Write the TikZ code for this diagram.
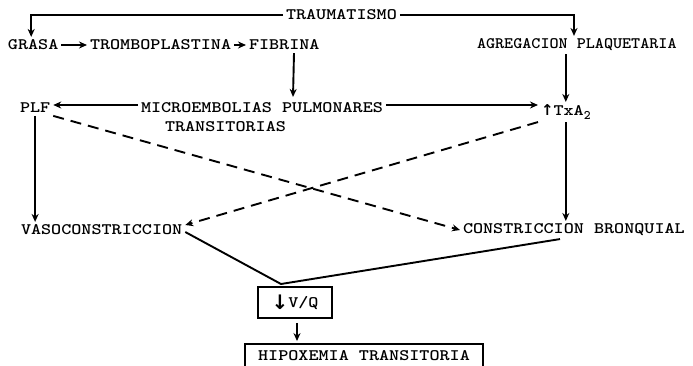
\documentclass[tikz,border=0pt]{standalone}
\usepackage{fontspec}
\usepackage{graphicx}
\newfontfamily\symfont{DejaVu Sans}
\usetikzlibrary{arrows.meta,calc}
\newcommand{\tw}[1]{\scalebox{1.2}[1]{#1}}
\begin{document}
\begin{tikzpicture}[x=1pt,y=-1pt,
  lbl/.style={inner sep=0pt, outer sep=3pt, anchor=west, font=\ttfamily\bfseries\fontsize{16}{18}\selectfont},
  ln/.style={line width=1.9pt},
  arr/.style={ln,-{Stealth[length=8pt,width=7pt]}},
  darr/.style={arr,dash pattern=on 11pt off 7pt},
  boxed/.style={draw, ln, inner sep=0pt, font=\ttfamily\bfseries\fontsize{16}{18}\selectfont}]
\useasboundingbox (0,0) rectangle (693,365);
\node[lbl] (trauma) at (283,15) {\tw{TRAUMATISMO}};
\node[lbl] (grasa) at (5,45) {\tw{GRASA}};
\node[lbl] (tromb) at (87,45) {\tw{TROMBOPLASTINA}};
\node[lbl] (fibrina) at (246,45) {\tw{\addfontfeatures{LetterSpace=12}FIBRINA}};
\node[lbl] (agreg) at (474,45) {\scalebox{1.08}[1]{AGREGACION PLAQUETARIA}};
\node[lbl] (plf) at (17,108) {\tw{PLF}};
\node[lbl] (micro) at (138,108) {\tw{MICROEMBOLIAS PULMONARES}};
\node[lbl] (trans) at (162,127) {\tw{TRANSITORIAS}};
\node[lbl] (txa) at (538,112) {{\symfont\fontsize{15}{15}\selectfont ↑}\tw{TxA}\raisebox{-0.45ex}{\fontsize{13}{13}\selectfont 2}};
\node[lbl] (vaso) at (18,230) {\tw{VASOCONSTRICCION}};
\node[lbl] (constr) at (460,230) {\tw{CONSTRICCION BRONQUIAL}};
\node[boxed, minimum width=74pt, minimum height=31pt] (vq) at (295,302.5) {\raisebox{-0.35ex}{\symfont\fontsize{20}{20}\selectfont ↓}\tw{V/Q}};
\node[boxed, minimum width=238pt, minimum height=24pt] (hipox) at (364,356) {\tw{HIPOXEMIA TRANSITORIA}};
\draw[arr] (trauma.west) -| ($(grasa.north)+(-2,0)$);
\draw[arr] (trauma.east) -| ($(agreg.north west)+(100,0)$);
\draw[arr] (grasa.east) -- (tromb.west);
\draw[arr] (tromb.east) -- (fibrina.west);
\draw[arr] ($(fibrina.south west)+(48,0)$) -- ($(micro.north west)+(155,-3)$);
\draw[arr] (agreg.south -| txa.north) -- (txa.north);
\draw[arr] ($(micro.west)+(0,-3)$) -- ($(plf.east)+(0,-3)$);
\draw[arr] ($(micro.east)+(0,-3)$) -- ($(micro.east -| txa.west)+(0,-3)$);
\draw[arr] (txa.south) -- (txa.south |- constr.north);
\draw[arr] (plf.south) -- (plf.south |- vaso.north);
\draw[darr] (plf.south east) -- (constr.west);
\draw[darr] (txa.south west) -- ($(vaso.east)+(0,-5)$);
\coordinate (j) at (281,284);
\draw[ln] ($(vaso.east)+(0,2)$) -- (j) -- ($(constr.south west)+(100,0)$);
\draw[arr] ($(vq.south)+(2,4)$) -- ($(vq.south |- hipox.north)+(2,-2)$);
\end{tikzpicture}
\end{document}
